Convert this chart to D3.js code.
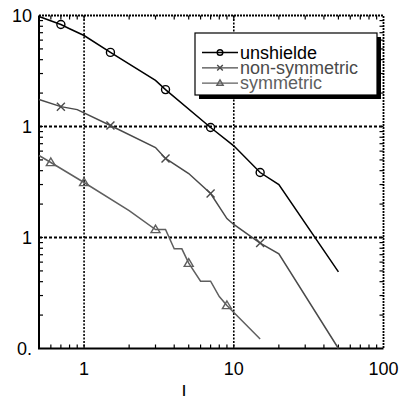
<!DOCTYPE html>
<html lang="en">
<head>
  <meta charset="UTF-8">
  <title>Shielding curves</title>
  <style>
    body { margin: 0; background: #fff; }
    svg { display: block; }
    text { font-family: Arial, "Liberation Sans", sans-serif; font-size: 18px; }
  </style>
  <script src="https://d3js.org/d3.v7.min.js"></script>
</head>
<body>
  <svg width="401" height="396"></svg>
  <script>
    // data (log-log)
    const unshX = [0.5, 0.7, 0.8, 1, 1.5, 3, 3.5, 7, 10, 15, 20, 50];
    const unshY = [9.8, 8.3, 7.6, 6.6, 4.65, 2.6, 2.15, 0.98, 0.67, 0.385, 0.30, 0.049];
    const unshMarks = [0.7, 1.5, 3.5, 7, 15];

    const nonX = [0.5, 0.7, 0.9, 1.5, 3, 3.5, 5, 7, 9, 10, 15, 20, 50];
    const nonY = [1.75, 1.51, 1.42, 1.02, 0.647, 0.515, 0.377, 0.249, 0.148, 0.131, 0.089, 0.0713, 0.01];
    const nonMarks = [0.7, 1.5, 3.5, 7, 15];

    const symX = [0.5, 0.6, 1, 2, 3, 3.5, 4, 4.5, 5, 6, 7, 8, 9, 15];
    const symY = [0.548, 0.474, 0.313, 0.175, 0.118, 0.118, 0.079, 0.079, 0.0587, 0.0404, 0.0404, 0.0294, 0.0244, 0.0122];
    const symMarks = [0.6, 1, 3, 5, 9];

    const xTickVals = [1, 10, 100];
    const xTickLabels = ["1", "10", "100"];
    const yTickVals = [10, 1, 0.1, 0.01];
    const yTickLabels = ["10", "1", "1", "0."];
    const legendNames = ["unshielde", "non-symmetric", "symmetric"];

    const svg = d3.select("svg");
    const pL = 39, pR = 383.5, pT = 15.5, pB = 348.5;

    const x = d3.scaleLog().domain([0.5, 100]).range([pL, pR]);
    const y = d3.scaleLog().domain([0.01, 10]).range([pB, pT]);

    // minor ticks on all four sides, pointing inward
    const xMinor = x.ticks().filter(v => v > 0.5 && v < 100);
    const yMinor = y.ticks().filter(v => v > 0.01 && v < 10);
    const tk = svg.append("g").attr("stroke", "#000").attr("stroke-width", 1.2);
    xMinor.forEach(v => {
      tk.append("line").attr("x1", x(v)).attr("x2", x(v)).attr("y1", pB).attr("y2", pB - 4);
      tk.append("line").attr("x1", x(v)).attr("x2", x(v)).attr("y1", pT).attr("y2", pT + 4);
    });
    yMinor.forEach(v => {
      tk.append("line").attr("y1", y(v)).attr("y2", y(v)).attr("x1", pL).attr("x2", pL + 4);
      tk.append("line").attr("y1", y(v)).attr("y2", y(v)).attr("x1", pR).attr("x2", pR - 4);
    });

    // dotted grid at inner decades
    [1, 10].forEach(v => {
      svg.append("line").attr("x1", x(v)).attr("x2", x(v)).attr("y1", pT).attr("y2", pB)
        .attr("stroke", "#000").attr("stroke-width", 1.6).attr("stroke-dasharray", "2,1.5");
    });
    [1, 0.1].forEach(v => {
      svg.append("line").attr("x1", pL).attr("x2", pR).attr("y1", y(v)).attr("y2", y(v))
        .attr("stroke", "#000").attr("stroke-width", 2.2).attr("stroke-dasharray", "3,2");
    });

    // frame
    svg.append("path").attr("d", `M${pL},${pT}V${pB}H${pR}`)
      .attr("fill", "none").attr("stroke", "#000").attr("stroke-width", 2);
    svg.append("path").attr("d", `M${pL},${pT}H${pR}V${pB}`)
      .attr("fill", "none").attr("stroke", "#000").attr("stroke-width", 1.8).attr("stroke-dasharray", "2,1");

    // tick labels
    svg.selectAll(".xl").data(xTickVals).enter().append("text")
      .attr("x", d => x(d)).attr("y", 375).attr("text-anchor", "middle")
      .text((d, i) => xTickLabels[i]);
    svg.selectAll(".yl").data(yTickVals).enter().append("text")
      .attr("x", 32).attr("y", d => y(d) + 6.5).attr("text-anchor", "end")
      .text((d, i) => yTickLabels[i]);
    svg.append("text").attr("x", 184).attr("y", 398).attr("text-anchor", "middle").text("I");

    const line = d3.line().x(d => x(d[0])).y(d => y(d[1]));
    const series = [
      { xs: unshX, ys: unshY, marks: unshMarks, color: "#000", shape: "circle" },
      { xs: nonX, ys: nonY, marks: nonMarks, color: "#4a4a4a", shape: "cross" },
      { xs: symX, ys: symY, marks: symMarks, color: "#5f5f5f", shape: "tri" }
    ];

    function drawMark(g, cx, cy, s, color, scale) {
      const k = scale || 1;
      if (s === "circle") {
        g.append("circle").attr("cx", cx).attr("cy", cy).attr("r", 4 * k)
          .attr("fill", "none").attr("stroke", color).attr("stroke-width", 1.4);
      } else if (s === "cross") {
        const r = 4 * k;
        g.append("path").attr("d", `M${cx - r},${cy - r}L${cx + r},${cy + r}M${cx - r},${cy + r}L${cx + r},${cy - r}`)
          .attr("stroke", color).attr("stroke-width", 1.4);
      } else {
        const r = 4.5 * k;
        g.append("path").attr("d", `M${cx},${cy - r}L${cx + r},${cy + r * 0.7}L${cx - r},${cy + r * 0.7}Z`)
          .attr("fill", "none").attr("stroke", color).attr("stroke-width", 1.4);
      }
    }

    series.forEach(s => {
      const pts = s.xs.map((v, i) => [v, s.ys[i]]);
      svg.append("path").datum(pts).attr("d", line)
        .attr("fill", "none").attr("stroke", s.color).attr("stroke-width", 1.5);
      const g = svg.append("g");
      s.marks.forEach(m => {
        const p = pts.find(d => d[0] === m);
        drawMark(g, x(p[0]), y(p[1]), s.shape, s.color);
      });
    });

    // legend
    const lg = svg.append("g").attr("transform", "translate(195,33)");
    lg.append("rect").attr("x", 4).attr("y", 4).attr("width", 182).attr("height", 62).attr("fill", "#000");
    lg.append("rect").attr("x", 0).attr("y", 0).attr("width", 182).attr("height", 62)
      .attr("fill", "#fff").attr("stroke", "#000").attr("stroke-width", 1.2);
    series.forEach((s, i) => {
      const ry = 19.5 + i * 15.3;
      lg.append("line").attr("x1", 7).attr("x2", 43).attr("y1", ry).attr("y2", ry)
        .attr("stroke", s.color).attr("stroke-width", 1.3);
      drawMark(lg, 25, ry, s.shape, s.color, 0.7);
      lg.append("text").attr("x", 45).attr("y", ry + 6).attr("fill", s.color).text(legendNames[i]);
    });
  </script>
</body>
</html>
